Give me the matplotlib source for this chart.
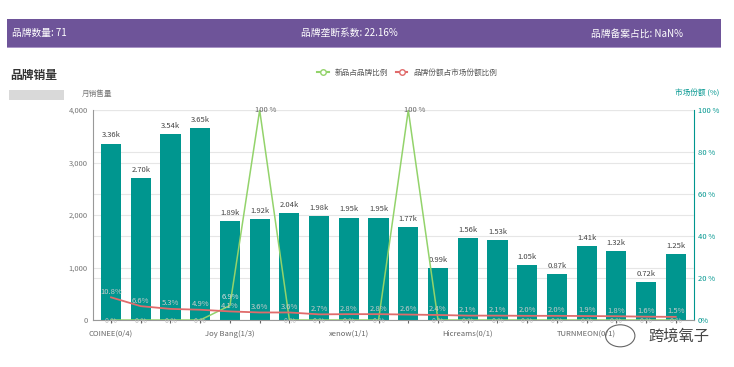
"""Brand sales bar chart with share lines (recreation)."""

import matplotlib.pyplot as plt
from matplotlib.patches import Rectangle, Ellipse

plt.rcParams['font.family'] = ['Noto Sans CJK SC', 'DejaVu Sans']

# Data
brands = ["COINEE(0/4)", "", "", "", "Joy Bang(1/3)", "", "", "", "xenow(1/1)", "",
          "", "", "Hicreams(0/1)", "", "", "", "TURNMEON(0/1)", "", "", ""]
sales = [3360, 2700, 3540, 3650, 1890, 1920, 2040, 1980, 1950, 1950,
         1770, 990, 1560, 1530, 1050, 870, 1410, 1320, 720, 1250]
new_ratio = [0, 0, 0, 0, 6.9, 100, 0, 0, 0, 0,
             100, 0, 0, 0, 0, 0, 0, 0, 0, 0]
market_share = [10.8, 6.6, 5.3, 4.9, 4.1, 3.6, 3.6, 2.7, 2.8, 2.8,
                2.6, 2.4, 2.1, 2.1, 2.0, 2.0, 1.9, 1.8, 1.6, 1.5]

TEAL = "#00968f"
GREEN = "#93d36b"
RED = "#e06b6b"
PURPLE = "#6e5499"

fig = plt.figure(figsize=(7.34, 3.67), dpi=100)

# Header banner
fig.patches.append(Rectangle((0.01, 0.872), 0.972, 0.075, transform=fig.transFigure,
                             facecolor=PURPLE, edgecolor="none", zorder=0))
fig.patches.append(Rectangle((0.01, 0.868), 0.972, 0.005, transform=fig.transFigure,
                             facecolor="#a995c6", edgecolor="none", zorder=0))
fig.text(0.016, 0.909, "品牌数量: 71", color="white", fontsize=7, va="center")
fig.text(0.41, 0.909, "品牌垄断系数: 22.16%", color="white", fontsize=7, va="center")
fig.text(0.805, 0.909, "品牌备案占比: NaN%", color="white", fontsize=7, va="center")

fig.text(0.014, 0.795, "品牌销量", color="#333333", fontsize=8.5, va="center",
         fontweight="bold")
fig.patches.append(Rectangle((0.012, 0.728), 0.075, 0.028, transform=fig.transFigure,
                             facecolor="#d9d9d9", edgecolor="none"))
fig.text(0.112, 0.745, "月销售量", color="#777777", fontsize=5.5, va="center")
fig.text(0.92, 0.745, "市场份额 (%)", color=TEAL, fontsize=5.5, va="center")

ax = fig.add_axes([0.127, 0.128, 0.818, 0.572])
x = list(range(len(sales)))
ax.bar(x, sales, width=0.68, color=TEAL, zorder=2)
for xi, v in zip(x, sales):
    ax.text(xi, v + 80, f"{v / 1000:.2f}k", ha="center", va="bottom",
            fontsize=5.5, color="#444444")

ax.set_ylim(0, 4000)
ax.set_yticks([0, 1000, 2000, 3000, 4000])
ax.set_yticklabels(["0", "1,000", "2,000", "3,000", "4,000"])
ax.set_xlim(-0.6, len(sales) - 0.4)
ax.set_xticks(x)
ax.set_xticklabels(brands)
ax.tick_params(axis="y", labelsize=5.5, colors="#777777", length=0, pad=4)
ax.tick_params(axis="x", labelsize=5.5, colors="#666666", length=2, pad=5)
ax.grid(axis="y", color="#e6e6e6", linewidth=0.8, zorder=0)
for s in ["top", "right"]:
    ax.spines[s].set_visible(False)
ax.spines["left"].set_color("#999999")
ax.spines["bottom"].set_color("#999999")

ax2 = ax.twinx()
ax2.set_ylim(0, 100)
ax2.set_yticks([0, 20, 40, 60, 80, 100])
ax2.set_yticklabels(["0%", "20 %", "40 %", "60 %", "80 %", "100 %"])
ax2.tick_params(axis="y", labelsize=5.5, colors=TEAL, length=0, pad=3)
ax2.grid(axis="y", color="#e6e6e6", linewidth=0.8)
ax2.set_axisbelow(True)
for s in ["top", "left", "bottom"]:
    ax2.spines[s].set_visible(False)
ax2.spines["right"].set_color(TEAL)
ax.set_zorder(ax2.get_zorder() + 1)
ax.patch.set_visible(False)

# Lines drawn on the bar axes using a percent->count transform
scale = 4000 / 100
ax.plot(x, [v * scale for v in new_ratio], color=GREEN, linewidth=1.1, zorder=3)
ax.plot(x, [v * scale for v in market_share], color=RED, linewidth=1.3, zorder=3)
for xi, v in zip(x, new_ratio):
    if v >= 50:
        ax.text(xi + 0.2, v * scale, f"{v:.0f} %", ha="center", va="center",
                fontsize=5.5, color="#666666", zorder=4)
    elif v > 0:
        ax.text(xi, v * scale + 90, f"{v:.1f}%", ha="center", va="bottom",
                fontsize=5.5, color="#dddddd", zorder=4)
    else:
        ax.text(xi, -10, "0 %", ha="center", va="center",
                fontsize=5, color="#bbbbbb", zorder=4)
for xi, v in zip(x, market_share):
    ax.text(xi, v * scale + 30, f"{v:.1f}%", ha="center", va="bottom",
            fontsize=5.5, color="#cccccc", zorder=4)

# Legend
ax.plot([], [], color=GREEN, marker="o", markerfacecolor="white", markersize=4,
        label="新品占品牌比例")
ax.plot([], [], color=RED, marker="o", markerfacecolor="white", markersize=4,
        label="品牌份额占市场份额比例")
fig.legend(loc="center", bbox_to_anchor=(0.555, 0.802), ncol=2, frameon=False,
           fontsize=5.5, handlelength=1.5, columnspacing=1.0, labelcolor="#555555")

# Watermark
fig.patches.append(Ellipse((0.845, 0.085), 0.04, 0.06, transform=fig.transFigure,
                           facecolor="none", edgecolor="#666666", linewidth=0.8))
fig.text(0.925, 0.085, "跨境氧子", color="#444444", fontsize=11, va="center", ha="center")

fig.savefig("out.png", dpi=100)
